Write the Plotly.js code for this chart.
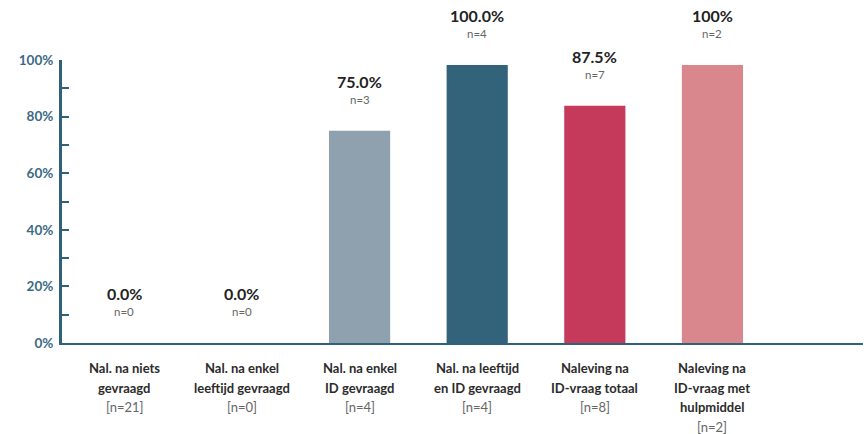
<!DOCTYPE html>
<html>
<head>
<meta charset="utf-8">
<script src="https://cdn.plot.ly/plotly-3.0.1.min.js"></script>
<style>
  html, body { margin: 0; padding: 0; background: #fff; }
  #chart { width: 864px; height: 434px; }
</style>
</head>
<body>
<div id="chart"></div>
<script>
// Category label lines (bold) and sample sizes
var categoryLines = [
  ["Nal. na niets", "gevraagd"],
  ["Nal. na enkel", "leeftijd gevraagd"],
  ["Nal. na enkel", "ID gevraagd"],
  ["Nal. na leeftijd", "en ID gevraagd"],
  ["Naleving na", "ID-vraag totaal"],
  ["Naleving na", "ID-vraag met", "hulpmiddel"]
];
var categoryN = ["[n=21]", "[n=0]", "[n=4]", "[n=4]", "[n=8]", "[n=2]"];

// Bar heights as drawn (percent)
var values = [0, 0, 75, 98.2, 83.8, 98.2];
// Value labels shown above bars
var valueLabels = ["0.0%", "0.0%", "75.0%", "100.0%", "87.5%", "100%"];
var nLabels = ["n=0", "n=0", "n=3", "n=4", "n=7", "n=2"];

var barColors = ["#8fa0af", "#8fa0af", "#8fa0af", "#32637a", "#c5395b", "#d9868c"];

var yTickVals = [0, 10, 20, 30, 40, 50, 60, 70, 80, 90, 100];
var yTickText = ["0%", "", "20%", "", "40%", "", "60%", "", "80%", "", "100%"];

var xIdx = values.map(function (v, i) { return i; });

var FONT = "Lato, 'Open Sans', sans-serif";
var AXIS = "#2f6179";

var annotations = [];
values.forEach(function (v, i) {
  annotations.push({
    x: i, y: v, xref: "x", yref: "y", text: "<b>" + valueLabels[i] + "</b>",
    showarrow: false, yanchor: "middle", xanchor: "center", yshift: 49.5,
    borderpad: 0,
    font: { family: FONT, size: 16, color: "#222222" }
  });
  annotations.push({
    x: i, y: v, xref: "x", yref: "y", text: nLabels[i],
    showarrow: false, yanchor: "middle", xanchor: "center", yshift: 31.5,
    borderpad: 0,
    font: { family: FONT, size: 11.5, color: "#666666" }
  });
  var lines = categoryLines[i];
  lines.forEach(function (ln, j) {
    annotations.push({
      x: i, y: 0, xref: "x", yref: "y", text: "<b>" + ln + "</b>",
      showarrow: false, yanchor: "middle", xanchor: "center",
      yshift: -(25 + 19.7 * j), borderpad: 0,
      font: { family: FONT, size: 13, color: "#2b2b2b" }
    });
  });
  annotations.push({
    x: i, y: 0, xref: "x", yref: "y", text: categoryN[i],
    showarrow: false, yanchor: "middle", xanchor: "center",
    yshift: -(25 + 19.7 * lines.length), borderpad: 0,
    font: { family: FONT, size: 13, color: "#666666" }
  });
});

var trace = {
  type: "bar",
  x: xIdx,
  y: values,
  width: 0.52,
  marker: { color: barColors },
  hoverinfo: "none",
  cliponaxis: false
};

var layout = {
  width: 864,
  height: 434,
  margin: { l: 62, r: 1, t: 60, b: 91 },
  paper_bgcolor: "#ffffff",
  plot_bgcolor: "#ffffff",
  showlegend: false,
  xaxis: {
    range: [-0.53, 6.28],
    showgrid: false,
    zeroline: false,
    showticklabels: false,
    ticks: "",
    showline: true,
    linecolor: AXIS,
    linewidth: 2,
    fixedrange: true
  },
  yaxis: {
    range: [0, 100],
    showgrid: false,
    zeroline: false,
    showline: true,
    linecolor: AXIS,
    linewidth: 3,
    ticks: "inside",
    ticklen: 7,
    tickwidth: 2,
    tickcolor: AXIS,
    tickmode: "array",
    tickvals: yTickVals,
    ticktext: yTickText,
    tickfont: { family: FONT, size: 13.5, color: "#3b6a83", weight: "bold" },
    ticklabelstandoff: 3,
    fixedrange: true
  },
  annotations: annotations
};

Plotly.newPlot("chart", [trace], layout, { displayModeBar: false, staticPlot: true });
</script>
</body>
</html>
